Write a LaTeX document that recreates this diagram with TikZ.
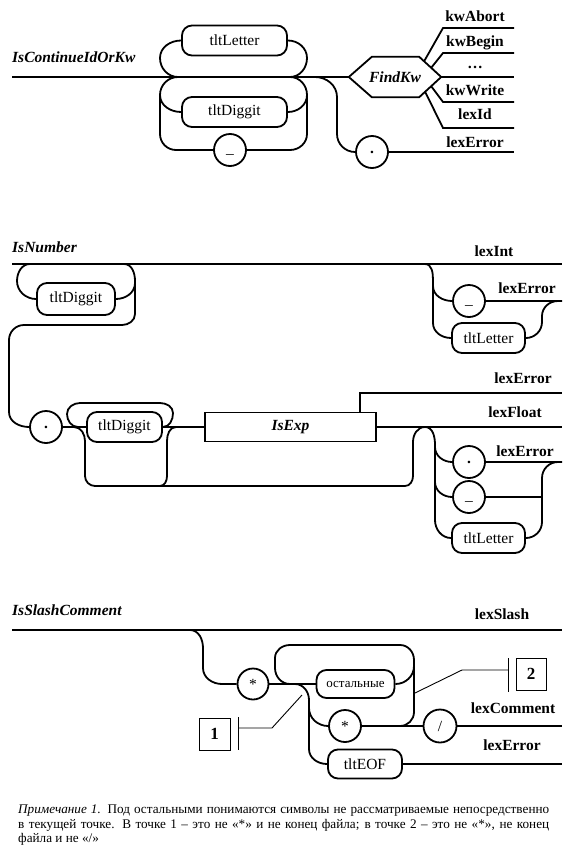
\documentclass[tikz,border=0pt]{standalone}
\usepackage{fontspec}
\setmainfont{Liberation Serif}
\usetikzlibrary{calc}
\begin{document}
\begin{tikzpicture}[x=1pt,y=-1pt,
  rail/.style={line width=1.8pt},
  fine/.style={line width=0.9pt},
  term/.style={draw,line width=1.8pt,rounded corners=10pt,inner sep=0pt,minimum height=30pt,font=\fontsize{15.5}{18}\selectfont},
  circ/.style={draw,circle,line width=1.8pt,minimum size=32pt,inner sep=0pt,font=\fontsize{15.5}{18}\selectfont},
  lbl/.style={anchor=base,inner sep=0pt,font=\bfseries\fontsize{15.5}{18}\selectfont},
  ttl/.style={anchor=base west,inner sep=0pt,font=\bfseries\itshape\fontsize{15.5}{18}\selectfont},
  nbox/.style={draw,line width=0.9pt,minimum width=31pt,minimum height=32pt,inner sep=0pt,font=\bfseries\fontsize{17}{20}\selectfont},
]
\useasboundingbox[fill=white] (0,0) rectangle (572,857);

% ================= Diagram 1: IsContinueIdOrKw =================
\node[ttl] (t1) at (12,62) {IsContinueIdOrKw};
\coordinate (s1) at (12,77);
\node[term,minimum width=105pt] (tlL1) at (234.5,40.5) {tltLetter};
\node[term,minimum width=105pt] (tlD1) at (234.5,112) {tltDiggit};
\node[circ] (us1) at (230,150) {\vphantom{Ag}\_};
\node[circ] (dot1) at (372,152) {\textbf{.}};
\node[inner sep=0pt,minimum width=92pt,minimum height=40pt,font=\bfseries\itshape\fontsize{15.5}{18}\selectfont] (fk) at (395,77) {FindKw};
\draw[rail] (fk.west) -- ($(fk.north west)+(23,0)$) -- ($(fk.north east)+(-22,0)$) -- (fk.east)
  -- ($(fk.south east)+(-22,0)$) -- ($(fk.south west)+(23,0)$) -- cycle;

\draw[rail] (s1) -- (fk.west);
% loop with tltLetter
\coordinate (j1a) at (178,77);
\coordinate (j1b) at (290,77);
\draw[rail] (tlL1.west) to[out=180,in=90] (160,58) to[out=-90,in=180] (j1a);
\draw[rail] (tlL1.east) to[out=0,in=90] (307,58) to[out=-90,in=0] (j1b);
\draw[rail] (j1a) to[out=180,in=90] (160,95) -- (160,134) to[out=-90,in=180] (176,150) -- (us1.west);
\draw[rail] (160,95) to[out=-90,in=180] (tlD1.west);
\draw[rail] (j1b) to[out=0,in=90] (307,95) -- (307,134) to[out=-90,in=0] (290,150) -- (us1.east);
\draw[rail] (307,95) to[out=-90,in=0] (tlD1.east);
% branch to '.'
\coordinate (j1c) at (315,77);
\draw[rail] (j1c) to[out=0,in=90] (337,97) -- (337,134) to[out=-90,in=180] (dot1.west);

% outputs of FindKw
\coordinate (o1) at (514,28);  \coordinate (o2) at (514,53);
\coordinate (o3) at (514,77);  \coordinate (o4) at (514,102);
\coordinate (o5) at (514,128); \coordinate (o6) at (514,152);
\draw[rail] (424,61.5) -- (443,28) -- (o1);
\draw[rail] (431,68) -- (443,53) -- (o2);
\draw[rail] (fk.east) -- (o3);
\draw[rail] (431,86) -- (443,102) -- (o4);
\draw[rail] (425,91.5) -- (443,128) -- (o5);
\draw[rail] (dot1.east) -- (o6);
\node[lbl] (l1) at (475,21) {kwAbort};
\node[lbl] (l2) at (475,46) {kwBegin};
\node[lbl] (l3) at (475,68) {\ldots};
\node[lbl] (l4) at (475,95) {kwWrite};
\node[lbl] (l5) at (475,119) {lexId};
\node[lbl] (l6) at (475,147) {lexError};

% ================= Diagram 2: IsNumber =================
\node[ttl] (t2) at (12,252) {IsNumber};
\coordinate (s2) at (12,264);
\coordinate (e2) at (562,264);
\draw[rail] (s2) -- (e2);
\node[lbl] (l7) at (494,256) {lexInt};

\node[term,minimum width=78pt,minimum height=32pt] (tlD2) at (76,299) {tltDiggit};
\draw[rail] (30,264) to[out=180,in=90] (17,281) to[out=-90,in=180] (tlD2.west);
\draw[rail] (tlD2.east) to[out=0,in=-90] (135,283);
\node[circ] (dot2) at (46,427) {\textbf{.}};
\draw[rail] (124,264) to[out=0,in=90] (135,281) -- (135,314) to[out=-90,in=0] (122,325) -- (24,325)
  to[out=180,in=90] (9,340) -- (9,412) to[out=-90,in=180] (dot2.west);

\node[term,minimum width=75pt] (tlD3) at (124.5,427) {tltDiggit};
\node[draw,line width=1.8pt,minimum width=171pt,minimum height=29pt,inner sep=0pt,
  font=\bfseries\itshape\fontsize{15.5}{18}\selectfont] (isexp) at (290.5,427) {IsExp};
\draw[rail] (dot2.east) -- (tlD3.west);
\draw[rail] (tlD3.east) -- (isexp.west);
\coordinate (e3) at (562,427);
\draw[rail] (isexp.east) -- (e3);
\node[lbl] (l8) at (515,417) {lexFloat};
\coordinate (e4) at (360,393);
\coordinate (e5) at (562,393);
\draw[rail] (isexp.north -| e4) -- (e4) -- (e5);
\node[lbl] (l9) at (523,383) {lexError};
% loop over tltDiggit
\draw[rail] (tlD3.east) to[out=0,in=-90] (173,413) to[out=90,in=0] (160,403) -- (80,403)
  to[out=180,in=90] (67,414) to[out=-90,in=180] (78,427);
% bypass below
\draw[rail] (74,427) to[out=0,in=90] (85,441) -- (85,476) to[out=-90,in=180] (95,486) -- (405,486)
  to[out=0,in=-90] (413,476) -- (413,442) to[out=90,in=180] (425,427) to[out=0,in=90] (435,445) -- (435,522);
\draw[rail] (176,427) to[out=180,in=90] (167,441) -- (167,476) to[out=-90,in=0] (160,486);

% lexInt error group
\node[circ] (us2) at (469,301) {\vphantom{Ag}\_};
\node[term,minimum width=73pt] (tlL2) at (488.5,338) {tltLetter};
\draw[rail] (425,264) to[out=0,in=90] (433,280) -- (433,323) to[out=-90,in=180] (tlL2.west);
\draw[rail] (433,286) to[out=-90,in=180] (us2.west);
\coordinate (e6) at (562,301);
\draw[rail] (us2.east) -- (e6);
\draw[rail] (tlL2.east) to[out=0,in=-90] (542,322) -- (542,316) to[out=90,in=180] (558,301) -- (e6);
\node[lbl] (l10) at (527,293) {lexError};

% lexFloat error group
\node[circ] (dot3) at (469,462) {\textbf{.}};
\node[circ] (us3) at (469,497) {\vphantom{Ag}\_};
\node[term,minimum width=73pt] (tlL3) at (488.5,538) {tltLetter};
\draw[rail] (435,520) to[out=-90,in=180] (tlL3.west);
\draw[rail] (435,447) to[out=-90,in=180] (dot3.west);
\draw[rail] (435,482) to[out=-90,in=180] (us3.west);
\coordinate (e7) at (562,462);
\draw[rail] (dot3.east) -- (e7);
\draw[rail] (us3.east) -- (542,497);
\draw[rail] (tlL3.east) to[out=0,in=-90] (542,522) -- (542,478) to[out=90,in=180] (558,462) -- (e7);
\node[lbl] (l11) at (525,456) {lexError};

% ================= Diagram 3: IsSlashComment =================
\node[ttl] (t3) at (12,615) {IsSlashComment};
\coordinate (s3) at (12,630);
\coordinate (e8) at (562,630);
\draw[rail] (s3) -- (e8);
\node[lbl] (l12) at (502,619) {lexSlash};

\node[circ,minimum size=31pt] (star1) at (253,684) {*};
\node[term,minimum width=78pt,minimum height=28pt,font=\fontsize{13}{15}\selectfont] (ost) at (355.5,684) {остальные};
\node[circ] (star2) at (345,726) {*};
\node[circ,minimum size=33pt] (slash) at (440,726) {/};
\node[term,minimum width=74pt,minimum height=29pt] (eof) at (365,764) {tltEOF};

\draw[rail] (190,630) to[out=0,in=90] (203,648) -- (203,668) to[out=-90,in=180] (222,684) -- (star1.west);
\draw[rail] (star1.east) -- (ost.west);
% loop over "остальные"
\draw[rail] (290,684) to[out=180,in=-90] (275,668) -- (275,658) to[out=90,in=180] (290,645) -- (400,645)
  to[out=0,in=90] (414,660) -- (414,712) to[out=-90,in=0] (400,726);
\draw[rail] (ost.east) to[out=0,in=-90] (414,666);
% lower branches
\draw[rail] (295,684) to[out=0,in=90] (309,700) -- (309,749) to[out=-90,in=180] (eof.west);
\draw[rail] (309,708) to[out=-90,in=180] (star2.west);
\draw[rail] (star2.east) -- (slash.west);
\coordinate (e9) at (562,726);
\coordinate (e10) at (562,764);
\draw[rail] (slash.east) -- (e9);
\draw[rail] (eof.east) -- (e10);
\node[lbl] (l13) at (513,713) {lexComment};
\node[lbl] (l14) at (512,750) {lexError};

% point markers
\node[nbox] (b1) at (214.5,734) {1};
\coordinate (bar1t) at (238,717); \coordinate (bar1b) at (238,750);
\draw[fine] (bar1t) -- (bar1b);
\draw[fine] (238,728) -- (272,728) -- (302,695);
\node[nbox,minimum width=30pt] (b2) at (531,674) {2};
\coordinate (bar2t) at (508,658); \coordinate (bar2b) at (508,692);
\draw[fine] (bar2t) -- (bar2b);
\draw[fine] (508,670) -- (462,670) -- (415,693);

% ================= Note =================
\node[anchor=north west,inner sep=0pt,align=left,font=\fontsize{13.2}{14.5}\selectfont] (note) at (18,805)
 {\makebox[531pt][s]{\textit{Примечание 1.} Под остальными понимаются символы не рассматриваемые непосредственно}\\
  \makebox[531pt][s]{в текущей точке. В точке 1 – это не «*» и не конец файла; в точке 2 – это не «*», не конец}\\
  файла и не «/»};
\end{tikzpicture}
\end{document}
